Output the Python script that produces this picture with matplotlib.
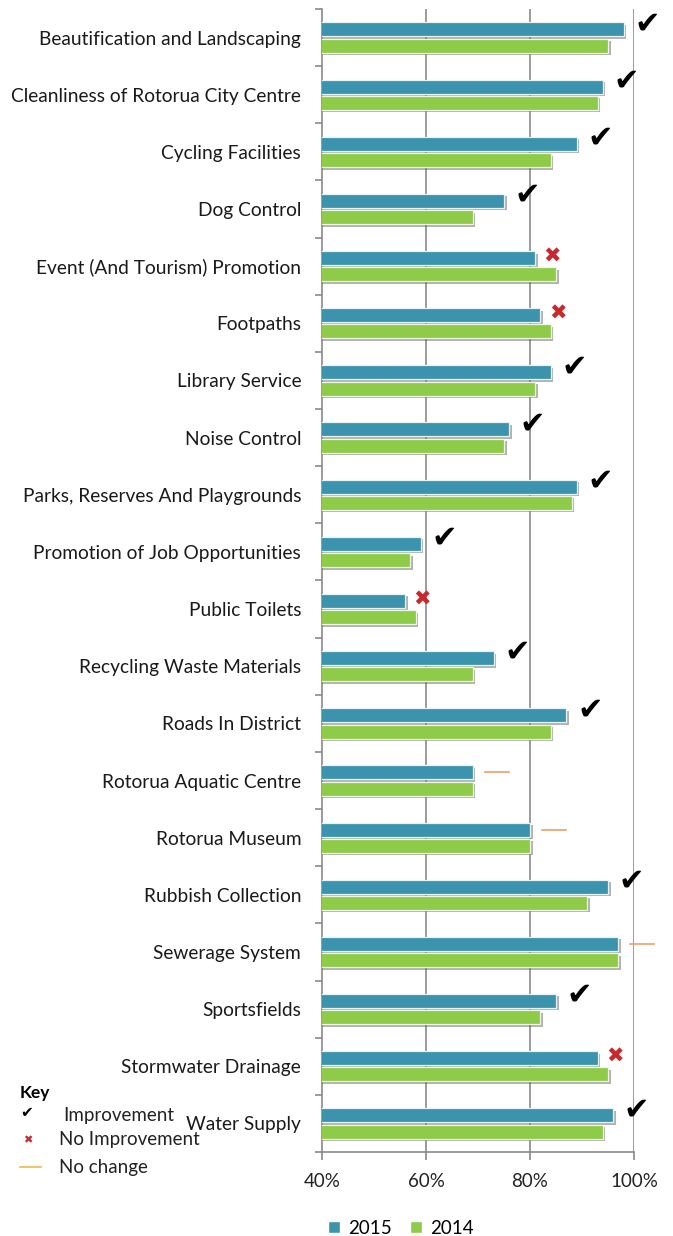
import matplotlib
matplotlib.use("Agg")
import matplotlib.pyplot as plt
import numpy as np
from matplotlib.patches import Patch
from matplotlib.lines import Line2D
import matplotlib.patheffects as pe

plt.rcParams['font.family'] = ['Lato', 'DejaVu Sans']

categories = [
    "Beautification and Landscaping",
    "Cleanliness of Rotorua City Centre",
    "Cycling Facilities",
    "Dog Control",
    "Event (And Tourism) Promotion",
    "Footpaths",
    "Library Service",
    "Noise Control",
    "Parks, Reserves And Playgrounds",
    "Promotion of Job Opportunities",
    "Public Toilets",
    "Recycling Waste Materials",
    "Roads In District",
    "Rotorua Aquatic Centre",
    "Rotorua Museum",
    "Rubbish Collection",
    "Sewerage System",
    "Sportsfields",
    "Stormwater Drainage",
    "Water Supply",
]
values_2015 = [98, 94, 89, 75, 81, 82, 84, 76, 89, 59, 56, 73, 87, 69, 80, 95, 97, 85, 93, 96]
values_2014 = [95, 93, 84, 69, 85, 84, 81, 75, 88, 57, 58, 69, 84, 69, 80, 91, 97, 82, 95, 94]
status = ["up", "up", "up", "up", "down", "down", "up", "up", "up", "up",
          "down", "up", "up", "same", "same", "up", "same", "up", "down", "up"]
xticks = [40, 60, 80, 100]
xtick_labels = ["40%", "60%", "80%", "100%"]

C2015 = "#3b93ae"
C2014 = "#8dcb49"
RED = "#c9282d"
ORANGE = "#e9a070"
GRID = "#8a8a8a"

W, H = 673, 1236
fig = plt.figure(figsize=(W / 100, H / 100), dpi=100)
ax = fig.add_axes([322 / W, 1 - 1152 / H, (634 - 322) / W, (1152 - 9) / H])

n = len(categories)
y = np.arange(n)
off = 0.143
h = 0.245
shadow = [pe.SimplePatchShadow(offset=(1.8, -1.8), shadow_rgbFace="#666666", alpha=0.5), pe.Normal()]
b1 = ax.barh(y - off, values_2015, height=h, left=0, color=C2015, edgecolor="#e8f2f5", linewidth=0.9, zorder=3)
b2 = ax.barh(y + off, values_2014, height=h, left=0, color=C2014, edgecolor="#eef7e6", linewidth=0.9, zorder=3)
for b in list(b1) + list(b2):
    b.set_path_effects(shadow)

ax.set_xlim(40, 100)
ax.set_ylim(n - 0.5, -0.5)

# markers
for i, (v, s) in enumerate(zip(values_2015, status)):
    if s == "up":
        ax.text(v + 4.5, i - off - 0.1, "\u2714", fontsize=22, color="black",
                ha="center", va="center", family="DejaVu Sans", zorder=5, clip_on=False)
    elif s == "down":
        ax.text(v + 3.3, i - off - 0.03, "\u2716", fontsize=15, color=RED,
                ha="center", va="center", family="DejaVu Sans", zorder=5, clip_on=False)
    else:
        ax.plot([v + 2.3, v + 6.9], [i - off, i - off], color=ORANGE, lw=1.2,
                zorder=5, clip_on=False)

# grid
for xv in xticks[1:]:
    ax.axvline(xv, color=GRID, lw=1.2, zorder=1)

for sp in ["top", "right"]:
    ax.spines[sp].set_visible(False)
ax.spines["left"].set_color(GRID)
ax.spines["bottom"].set_color(GRID)
ax.spines["left"].set_linewidth(1.2)
ax.spines["bottom"].set_linewidth(1.2)

ax.set_xticks(xticks)
ax.set_xticklabels(xtick_labels, fontsize=13.5, color="#222222")
ax.tick_params(axis="x", length=6, color=GRID, width=1.2, pad=9)

ax.set_yticks(y)
ax.set_yticklabels(categories, fontsize=13.8, color="#1a1a1a")
ax.tick_params(axis="y", which="major", length=0, pad=15)
ax.set_yticks(np.arange(n + 1) - 0.5, minor=True)
ax.tick_params(axis="y", which="minor", length=5, color=GRID, width=1.2)

# bottom legend
handles = [Patch(facecolor=C2015, edgecolor="white"), Patch(facecolor=C2014, edgecolor="white")]
fig.legend(handles, ["2015", "2014"], loc="center left", bbox_to_anchor=(328 / W, 1 - 1228 / H),
           ncol=2, frameon=False, fontsize=13.5, handlelength=0.65, handleheight=0.65,
           handletextpad=0.4, columnspacing=1.0, borderaxespad=0, borderpad=0)

# key
fig.text(20 / W, 1 - 1093 / H, "Key", fontsize=12.5, fontweight="bold", va="center", ha="left")
fig.text(20 / W, 1 - 1112 / H, "\u2714", fontsize=11, va="center", ha="left", family="DejaVu Sans")
fig.text(63 / W, 1 - 1115 / H, "Improvement", fontsize=13.5, va="center", ha="left", color="#222222")
fig.text(23 / W, 1 - 1140 / H, "\u2716", fontsize=8, va="center", ha="left", color=RED, family="DejaVu Sans")
fig.text(59 / W, 1 - 1140 / H, "No Improvement", fontsize=13.5, va="center", ha="left", color="#222222")
fig.add_artist(Line2D([20 / W, 41 / W], [1 - 1167 / H, 1 - 1167 / H], color="#f2b84a", lw=1.2))
fig.text(59 / W, 1 - 1167 / H, "No change", fontsize=13.5, va="center", ha="left", color="#222222")

fig.savefig("out.png", dpi=100)
